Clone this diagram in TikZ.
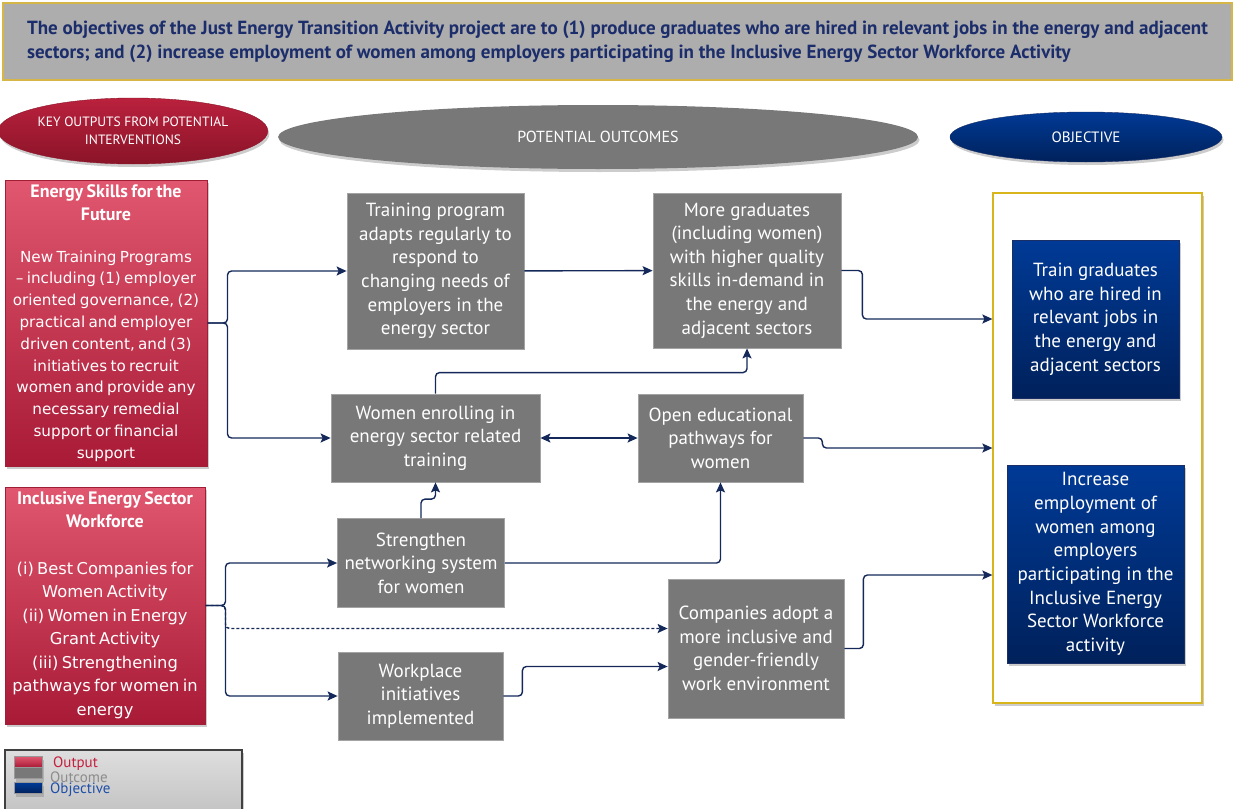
\documentclass[tikz,border=0pt]{standalone}
\usepackage{fontspec}
\setmainfont{PT Sans}
\newfontfamily\verdfont{DejaVu Sans}
\usetikzlibrary{shapes.geometric,shadows,arrows.meta,calc}

\definecolor{navyline}{HTML}{14295A}
\definecolor{bannergray}{HTML}{ADADAD}
\definecolor{bannerline}{HTML}{D6B646}
\definecolor{bannertext}{HTML}{1C2D6B}
\definecolor{redtop}{HTML}{E1576F}
\definecolor{redbot}{HTML}{A81A36}
\definecolor{redline}{HTML}{A01F37}
\definecolor{redell}{HTML}{BA213D}
\definecolor{redelldark}{HTML}{8A1428}
\definecolor{outgray}{HTML}{787878}
\definecolor{grayline}{HTML}{A3A3A3}
\definecolor{bluetop}{HTML}{003A96}
\definecolor{bluebot}{HTML}{00215B}
\definecolor{blueline}{HTML}{1A2F66}
\definecolor{framegold}{HTML}{D9B51C}
\definecolor{legred}{HTML}{C4203E}
\definecolor{leggray}{HTML}{8C8C8C}
\definecolor{legblue}{HTML}{1F4FA8}

\newcommand\titlefont{\fontsize{18}{23}\selectfont\bfseries}

\begin{document}
\begin{tikzpicture}[x=1pt,y=-1pt,
	shade/.style={
		drop shadow={shadow xshift=1.5pt,shadow yshift=-3pt,opacity=0.4}
	}]
	%\draw[help lines] (0,0) grid (1236,808);
	\useasboundingbox (0,0) rectangle (1236,808);
	\tikzstyle{banner} = [draw=bannerline,line width=1.2pt,fill=bannergray,text=bannertext,font=\fontsize{19}{24}\selectfont\bfseries,align=left,inner sep=0pt]
	\tikzstyle{headell} = [ellipse,shade,inner sep=0pt,text=white,align=center]
	\tikzstyle{outputbox} = [shade,draw=redline,line width=1pt,top color=redtop,bottom color=redbot,text=white,align=center,inner sep=0pt]
	\tikzstyle{outcome} = [draw=grayline,line width=0.8pt,fill=outgray,text=white,font=\fontsize{19}{23.6}\selectfont,align=center,inner sep=0pt]
	\tikzstyle{goldframe} = [shade,draw=framegold,line width=1.3pt,fill=white,inner sep=0pt]
	\tikzstyle{objective} = [shade,draw=blueline,line width=1pt,top color=bluetop,bottom color=bluebot,text=white,font=\fontsize{19}{23.7}\selectfont,align=center,inner sep=0pt]
	\tikzstyle{swatch} = [shade,draw=black!40,line width=0.6pt,minimum width=28pt,minimum height=11pt,inner sep=0pt]
	\tikzstyle{legtext} = [anchor=west,font=\fontsize{15}{15}\selectfont,inner sep=0pt]
	\tikzstyle{edge} = [-{Stealth[length=10pt,width=9pt,inset=2pt]},draw=navyline,line width=1.4pt,rounded corners=4pt]
	\tikzstyle{dedge} = [edge,{Stealth[length=10pt,width=9pt,inset=2pt]}-{Stealth[length=10pt,width=9pt,inset=2pt]}]

	\node[banner,minimum width=1229pt,minimum height=77pt] (head) at (617.5,41.5) {The objectives of the Just Energy Transition Activity project are to (1) produce graduates who are hired in relevant jobs in the energy and adjacent\\sectors; and (2) increase employment of women among employers participating in the Inclusive Energy Sector Workforce Activity};

	\node[headell,draw=redelldark,top color=redell,bottom color=redelldark,minimum width=256pt,minimum height=66pt,font=\fontsize{13.5}{18}\selectfont] (keyout) at (133,131) {KEY OUTPUTS FROM POTENTIAL\\INTERVENTIONS};
	\node[headell,fill=outgray,minimum width=640pt,minimum height=64pt,font=\fontsize{16}{18}\selectfont] (potout) at (598,137) {POTENTIAL OUTCOMES};
	\node[headell,draw=blueline,top color=bluetop,bottom color=bluebot,minimum width=272pt,minimum height=50pt,font=\fontsize{15}{18}\selectfont] (objell) at (1086,137) {OBJECTIVE};

	\node[outputbox,minimum width=202pt,minimum height=286pt,text width=198pt] (esf) at (106,323) {
		{\titlefont Energy Skills for the\\Future\par}
		\vspace{20pt}
		\fontsize{15.2}{21.8}\verdfont
		New Training Programs\\
		– including (1) employer\\
		oriented governance, (2)\\
		practical and employer\\
		driven content, and (3)\\
		initiatives to recruit\\
		women and provide any\\
		necessary remedial\\
		support or financial\\
		support\par
	};
	\node[outputbox,minimum width=200pt,minimum height=237pt,text width=198pt] (iesw) at (105,605.5) {
		{\titlefont Inclusive Energy Sector\\Workforce\par}
		\vspace{23pt}
		\fontsize{16.3}{23.5}\verdfont
		(i) Best Companies for\\
		Women Activity\\
		(ii) Women in Energy\\
		Grant Activity\\
		(iii) Strengthening\\
		pathways for women in\\
		energy\par
	};

	\node[outcome,minimum width=177pt,minimum height=156pt] (trainprog) at (435.5,271) {Training program\\adapts regularly to\\respond to\\changing needs of\\employers in the\\energy sector};
	\node[outcome,minimum width=188pt,minimum height=155pt] (moregrad) at (747,270.5) {More graduates\\(including women)\\with higher quality\\skills in-demand in\\the energy and\\adjacent sectors};
	\node[outcome,minimum width=209pt,minimum height=88pt] (enroll) at (435.5,438) {Women enrolling in\\energy sector related\\training};
	\node[outcome,minimum width=165pt,minimum height=88pt] (openpath) at (720.5,438) {Open educational\\pathways for\\women};
	\node[outcome,minimum width=167pt,minimum height=89pt] (network) at (421,563) {Strengthen\\networking system\\for women};
	\node[outcome,minimum width=176pt,minimum height=139pt] (adopt) at (756,648.5) {Companies adopt a\\more inclusive and\\gender-friendly\\work environment};
	\node[outcome,minimum width=165pt,minimum height=88pt] (workplace) at (420.5,696) {Workplace\\initiatives\\implemented};

	\node[goldframe,minimum width=209pt,minimum height=510pt] (objs) at (1097.5,448) {};
	\node[objective,minimum width=167pt,minimum height=158pt] (traingrad) at (1095.5,319) {Train graduates\\who are hired in\\relevant jobs in\\the energy and\\adjacent sectors};
	\node[objective,minimum width=177pt,minimum height=198pt] (incremp) at (1095.5,564) {Increase\\employment of\\women among\\employers\\participating in the\\Inclusive Energy\\Sector Workforce\\activity};

	\draw[edge] (esf.east) -- ++(20,0) |- (trainprog.west);
	\draw[edge] (esf.east) -- ++(20,0) |- (enroll.west);
	\draw (trainprog) edge [edge] (moregrad);
	\draw[edge] (moregrad.east) -- ++(21,0) |- (objs.west |- traingrad);
	\draw[edge] (enroll.north) -- ++(0,-21) -| (moregrad.south);
	\draw (enroll) edge [dedge] (openpath);
	\draw[edge] (openpath.east) -- ++(19,0) |- (objs.west);

	\draw[edge] (iesw.east) -- ++(20,0) |- (network.west);
	\draw[edge] (iesw.east) -- ++(20,0) |- (workplace.west);
	\draw[edge,dash pattern=on 3pt off 2pt] (iesw.east) -- ++(20,0) |- ([yshift=20pt]adopt.west);
	\draw[edge] (network.north) -- ++(0,-19) -| (enroll.south);
	\draw[edge] (network.east) -| (openpath.south);
	\draw[edge] (workplace.east) -- ++(19,0) |- ([yshift=-18pt]adopt.west);
	\draw[edge] (adopt.east) -- ++(19,0) |- ($(objs.west |- incremp)+(0,11)$);

	\node[shade,draw=black!75,line width=1.5pt,top color=black!13,bottom color=black!24,minimum width=237pt,minimum height=66pt,inner sep=0pt] (legend) at (123.5,783) {};
	\node[swatch,top color=redtop,bottom color=redbot] (swout) at (28,762) {};
	\node[swatch,fill=outgray] (swoc) at (28,773) {};
	\node[swatch,top color=bluetop,bottom color=bluebot] (swob) at (28,788) {};
	\node[legtext,text=legred] (lgout) at (53,764) {Output};
	\node[legtext,text=leggray] (lgoc) at (50,777) {Outcome};
	\node[legtext,text=legblue] (lgob) at (50,790) {Objective};
\end{tikzpicture}
\end{document}
